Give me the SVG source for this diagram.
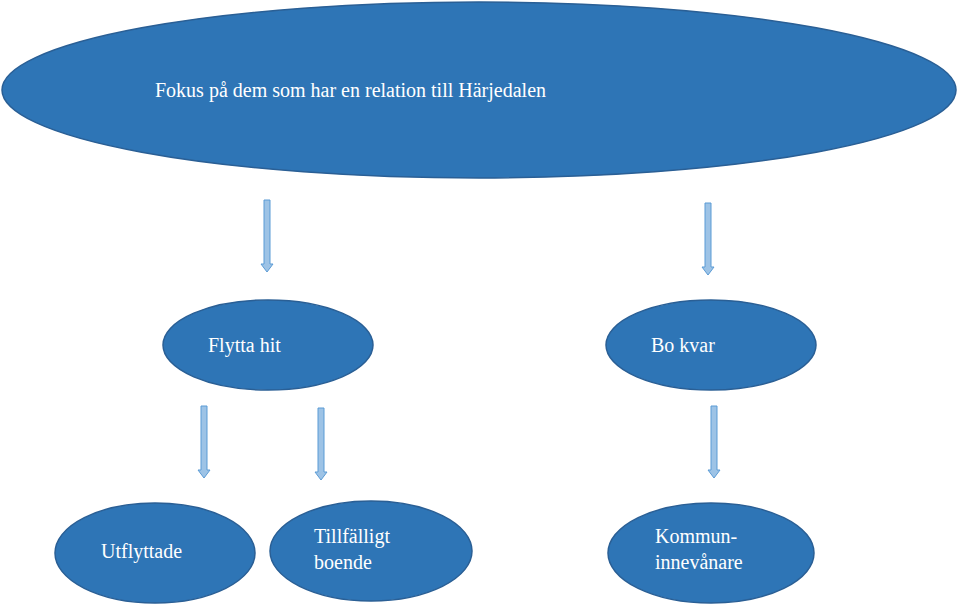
<svg xmlns="http://www.w3.org/2000/svg" width="959" height="605" viewBox="0 0 959 605">
<style>
.n{fill:#2E75B6;stroke:#2A5F95;stroke-width:1.5}
.t{font-family:"Liberation Serif",serif;font-size:20px;fill:#fff}
.a{fill:#9DC3E6;stroke:#5B9BD5;stroke-width:1}
</style>
<defs>
<path id="arr" class="a" d="M-3,0 H3 V64 H6 L0,72 L-6,64 H-3 Z"/>
</defs>
<rect width="959" height="605" fill="#fff"/>
<g id="connectors">
<use href="#arr" x="267" y="200"/>
<use href="#arr" x="708" y="203"/>
<use href="#arr" x="204" y="406"/>
<use href="#arr" x="321" y="408"/>
<use href="#arr" x="714" y="406"/>
</g>
<g id="n1"><ellipse class="n" cx="479" cy="90" rx="477" ry="88"/><text class="t" x="155" y="97">Fokus på dem som har en relation till Härjedalen</text></g>
<g id="n2"><ellipse class="n" cx="268" cy="345" rx="105" ry="45"/><text class="t" x="208" y="352">Flytta hit</text></g>
<g id="n3"><ellipse class="n" cx="711" cy="345" rx="105" ry="45"/><text class="t" x="651" y="352">Bo kvar</text></g>
<g id="n4"><ellipse class="n" cx="155" cy="553" rx="100" ry="50"/><text class="t" x="101" y="558">Utflyttade</text></g>
<g id="n5"><ellipse class="n" cx="371" cy="551" rx="101" ry="50"/><text class="t" x="314" y="543">Tillfälligt</text><text class="t" x="314" y="569">boende</text></g>
<g id="n6"><ellipse class="n" cx="711" cy="553" rx="103" ry="50"/><text class="t" x="655" y="543">Kommun-</text><text class="t" x="655" y="569">innevånare</text></g>
</svg>
